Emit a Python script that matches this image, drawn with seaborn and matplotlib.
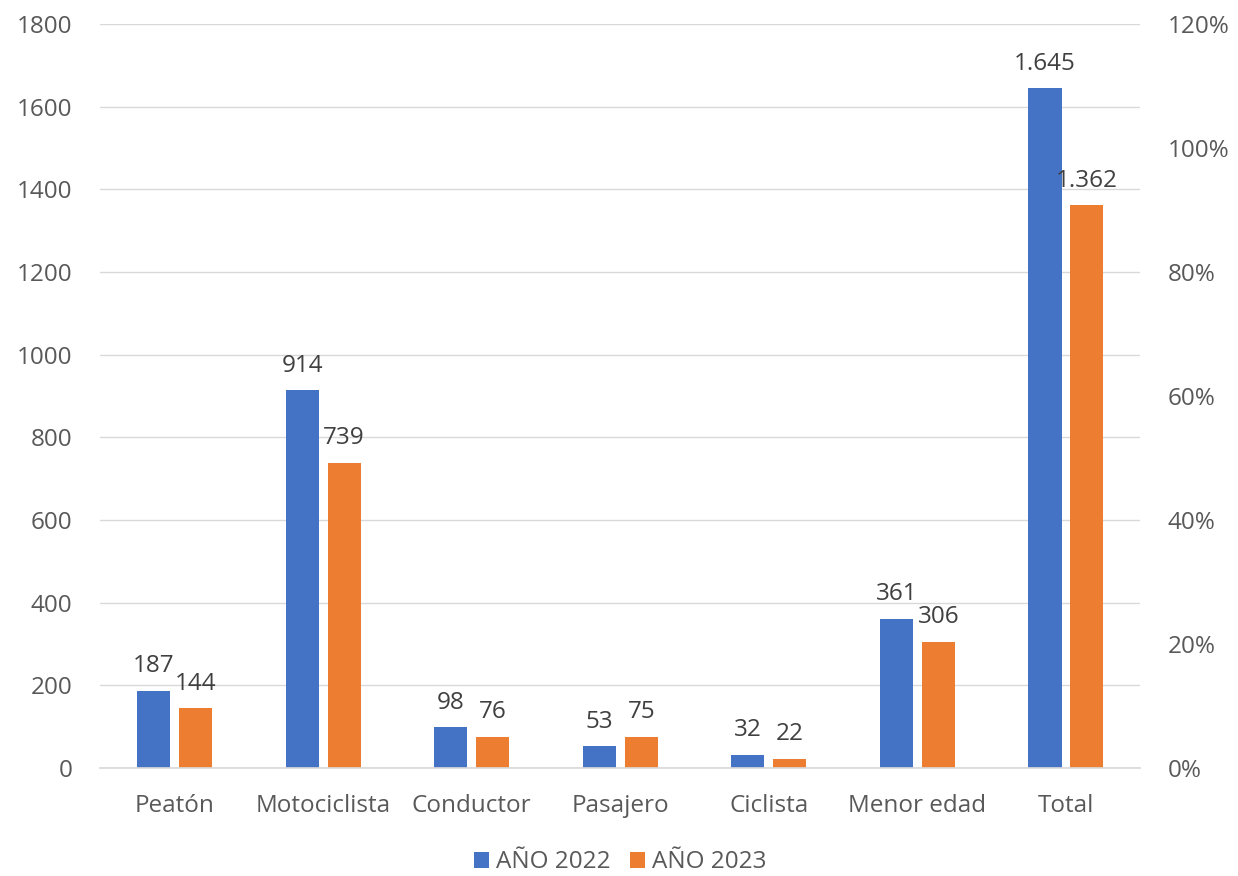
import matplotlib
matplotlib.use("Agg")
import matplotlib.pyplot as plt
import matplotlib.ticker as mticker
import pandas as pd
import seaborn as sns

categories = ["Peatón", "Motociclista", "Conductor", "Pasajero", "Ciclista", "Menor edad", "Total"]
values_2022 = [187, 914, 98, 53, 32, 361, 1645]
values_2023 = [144, 739, 76, 75, 22, 306, 1362]
series = ["AÑO 2022", "AÑO 2023"]
colors = ["#4472C4", "#ED7D31"]

df = pd.DataFrame({
    "categoria": categories * 2,
    "valor": values_2022 + values_2023,
    "serie": [series[0]] * len(categories) + [series[1]] * len(categories),
})

sns.set_theme(style="white")
plt.rcParams["font.family"] = ["Open Sans", "DejaVu Sans"]

fig, ax = plt.subplots(figsize=(12.38, 8.76), dpi=100)
fig.subplots_adjust(left=0.081, right=0.921, top=0.9726, bottom=0.1233)

sns.barplot(data=df, x="categoria", y="valor", hue="serie", palette=colors,
            width=0.565, gap=0.21, ax=ax, saturation=1, linewidth=0)

# value labels with dot as thousands separator
for container in ax.containers:
    labels = [f"{v:,.0f}".replace(",", ".") for v in container.datavalues]
    ax.bar_label(container, labels=labels, padding=9, fontsize=17.5, color="#404040")

ax.set_ylim(0, 1800)
ax.set_yticks(range(0, 1801, 200))
ax.set_xlim(-0.5, len(categories) - 0.5)
ax.yaxis.grid(True, color="#D9D9D9", linewidth=1)
ax.set_axisbelow(True)
for side in ["top", "left", "right"]:
    ax.spines[side].set_visible(False)
ax.spines["bottom"].set_color("#D9D9D9")
ax.set_xlabel("")
ax.set_ylabel("")
ax.tick_params(axis="x", length=0, labelsize=17.5, colors="#595959", pad=19)
ax.tick_params(axis="y", length=0, labelsize=17.5, colors="#595959", pad=20)

ax2 = ax.twinx()
ax2.set_ylim(0, 1.2)
ax2.set_yticks([i / 5 for i in range(7)])
ax2.yaxis.set_major_formatter(mticker.PercentFormatter(1.0, decimals=0))
for side in ["top", "left", "right", "bottom"]:
    ax2.spines[side].set_visible(False)
ax2.tick_params(axis="y", length=0, labelsize=17.5, colors="#595959", pad=20)

ax.legend(loc="center", bbox_to_anchor=(0.5, -0.127), ncol=2, frameon=False,
          fontsize=17.5, handlelength=0.6, handleheight=0.6, columnspacing=0.8,
          handletextpad=0.3, labelcolor="#595959", borderpad=0)

fig.savefig("out.png", dpi=100)
